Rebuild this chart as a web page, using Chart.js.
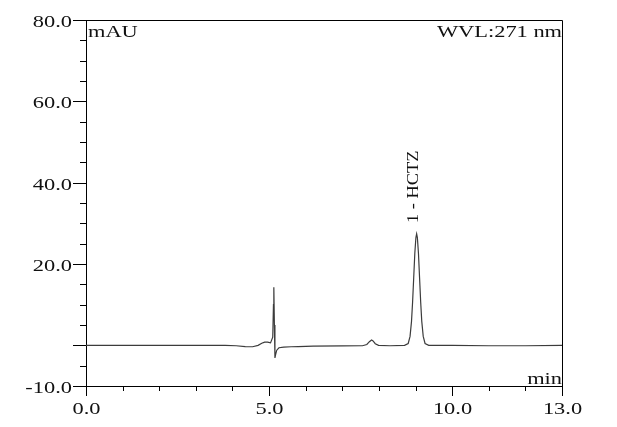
<!DOCTYPE html>
<html>
<head>
<meta charset="utf-8">
<script src="https://cdn.jsdelivr.net/npm/chart.js@4.4.1/dist/chart.umd.min.js"></script>
<style>
  html, body { margin: 0; padding: 0; background: #fff; }
  #wrap { width: 617px; height: 427px; }
</style>
</head>
<body>
<div id="wrap"><canvas id="chrom" width="617" height="427"></canvas></div>
<script>
// retention time (min) and absorbance (mAU)
const times = [0, 1, 2, 3, 3.8, 4.1, 4.35, 4.55, 4.7, 4.8, 4.88, 4.96, 5.04, 5.1, 5.12, 5.13, 5.145, 5.16, 5.18, 5.21, 5.27, 5.4, 5.6, 5.8, 6.2, 7.0, 7.55, 7.67, 7.74, 7.8, 7.84, 7.9, 7.99, 8.3, 8.7, 8.8, 8.85, 8.89, 8.92, 8.95, 8.98, 9.01, 9.03, 9.05, 9.08, 9.11, 9.14, 9.17, 9.21, 9.26, 9.36, 10, 11, 12, 13];
const absorbance = [0, 0, 0, 0, 0, -0.1, -0.3, -0.35, 0, 0.5, 0.8, 0.8, 0.6, 2, 10, 14.3, 5, -3.1, -2.2, -1.2, -0.6, -0.45, -0.35, -0.3, -0.2, -0.15, -0.1, 0.2, 0.9, 1.3, 1.1, 0.4, 0, -0.1, 0, 0.45, 2.2, 5.9, 10.7, 16.6, 22.6, 26.5, 27.4, 26.5, 22.6, 16.6, 10.7, 5.9, 2.2, 0.45, 0, 0, -0.1, -0.1, 0];

const xTickLabels = [0, 5, 10, 13];
const yTickLabels = [80, 60, 40, 20, -10];
const peakName = '1 - HCTZ';
const peakTime = 9.03;
const peakHeight = 27.4;

const FONT = '16px "Liberation Serif", "Times New Roman", serif';
const STRETCH = 1.4;

function wideText(ctx, text, x, y, align) {
    ctx.save();
    ctx.translate(x, y);
    ctx.scale(STRETCH, 1);
    ctx.textAlign = align;
    ctx.textBaseline = 'alphabetic';
    ctx.fillText(text, 0, 0);
    ctx.restore();
}

// axis ticks, frame and the instrument captions
const chromFrame = {
    id: 'chromFrame',
    afterDraw(chart) {
        const { ctx, chartArea: a, scales: { x, y } } = chart;
        ctx.save();
        ctx.strokeStyle = '#000';
        ctx.fillStyle = '#111';
        ctx.lineWidth = 1;
        ctx.font = FONT;

        ctx.beginPath();
        ctx.moveTo(a.left, a.top + 0.5);
        ctx.lineTo(a.right + 0.5, a.top + 0.5);
        ctx.lineTo(a.right + 0.5, a.bottom);
        ctx.stroke();

        y.ticks.forEach(t => {
            const py = Math.round(y.getPixelForValue(t.value)) + 0.5;
            const major = yTickLabels.includes(t.value) || t.value === 0;
            ctx.beginPath();
            ctx.moveTo(a.left - (major ? 13 : 6), py);
            ctx.lineTo(a.left, py);
            ctx.stroke();
            if (yTickLabels.includes(t.value))
                wideText(ctx, t.value.toFixed(1), a.left - 14, py + 6, 'right');
        });

        x.ticks.forEach(t => {
            const px = Math.round(x.getPixelForValue(t.value)) + 0.5;
            const major = xTickLabels.includes(t.value);
            ctx.beginPath();
            ctx.moveTo(px, a.bottom);
            ctx.lineTo(px, a.bottom + (major ? 10 : 5));
            ctx.stroke();
            if (major)
                wideText(ctx, t.value.toFixed(1), px, a.bottom + 28, 'center');
        });

        wideText(ctx, 'mAU', a.left + 2, a.top + 17, 'left');
        wideText(ctx, 'WVL:271 nm', a.right, a.top + 17, 'right');
        wideText(ctx, 'min', a.right, a.bottom - 2, 'right');

        // peak label, rotated
        ctx.save();
        ctx.font = '17px "Liberation Serif", "Times New Roman", serif';
        ctx.translate(x.getPixelForValue(peakTime) + 1, y.getPixelForValue(peakHeight) - 11);
        ctx.rotate(-Math.PI / 2);
        ctx.scale(1.08, 1);
        ctx.textAlign = 'left';
        ctx.fillText(peakName, 0, 0);
        ctx.restore();

        ctx.restore();
    }
};

new Chart('chrom', {
    type: 'line',
    data: {
        datasets: [{
            data: times.map((t, i) => ({ x: t, y: absorbance[i] })),
            borderColor: '#3c3c3c',
            borderWidth: 1.2,
            pointRadius: 0,
            tension: 0,
            fill: false
        }]
    },
    options: {
        responsive: false,
        animation: false,
        devicePixelRatio: 1,
        layout: { padding: { top: 20, right: 55, left: 0, bottom: 0 } },
        plugins: { legend: { display: false }, tooltip: { enabled: false } },
        scales: {
            x: {
                type: 'linear',
                min: 0,
                max: 13,
                ticks: { stepSize: 1, display: false, autoSkip: false },
                grid: { drawOnChartArea: false, drawTicks: false },
                border: { display: true, color: '#000', width: 1 },
                afterFit: s => { s.height = 41; }
            },
            y: {
                min: -10,
                max: 80,
                ticks: { stepSize: 5, display: false, autoSkip: false },
                grid: { drawOnChartArea: false, drawTicks: false },
                border: { display: true, color: '#000', width: 1 },
                afterFit: s => { s.width = 86; }
            }
        }
    },
    plugins: [chromFrame]
});
</script>
</body>
</html>
